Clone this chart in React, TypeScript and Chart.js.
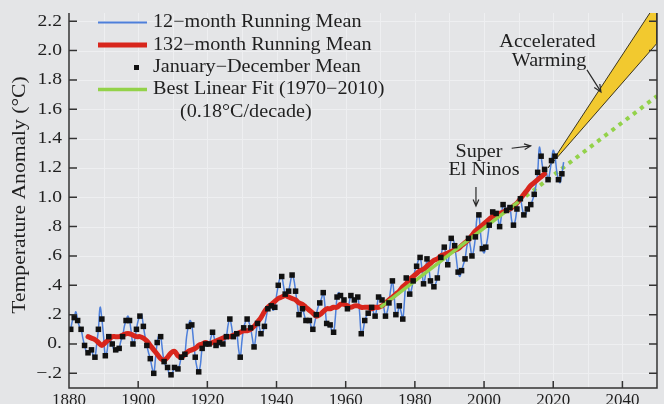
import React, { useEffect, useRef } from "react";
import { Chart, registerables } from "chart.js";

Chart.register(...registerables);

// ---------------------------------------------------------------------------
// Data
// ---------------------------------------------------------------------------

const FIRST_YEAR = 1880;

// January–December mean anomaly (°C), one value per year starting 1880
const annualMean = [
  0.10, 0.18, 0.16, 0.10, -0.01, -0.06, -0.04, -0.09, 0.10, 0.17,
  -0.08, 0.05, 0.00, -0.04, -0.03, 0.05, 0.16, 0.16, 0.00, 0.10,
  0.19, 0.12, -0.01, -0.10, -0.20, 0.01, 0.05, -0.12, -0.16, -0.21,
  -0.16, -0.17, -0.09, -0.07, 0.12, 0.13, -0.09, -0.19, -0.03, 0.00,
  0.00, 0.08, -0.01, 0.01, 0.00, 0.05, 0.17, 0.05, 0.07, -0.09,
  0.11, 0.17, 0.11, -0.02, 0.14, 0.07, 0.12, 0.24, 0.26, 0.25,
  0.40, 0.46, 0.34, 0.36, 0.47, 0.36, 0.20, 0.24, 0.16, 0.16,
  0.10, 0.20, 0.28, 0.35, 0.14, 0.13, 0.08, 0.32, 0.33, 0.30,
  0.24, 0.33, 0.30, 0.32, 0.07, 0.16, 0.21, 0.25, 0.19, 0.32,
  0.30, 0.19, 0.28, 0.43, 0.20, 0.26, 0.17, 0.45, 0.34, 0.43,
  0.53, 0.59, 0.41, 0.58, 0.43, 0.39, 0.45, 0.59, 0.66, 0.54,
  0.72, 0.67, 0.49, 0.50, 0.58, 0.72, 0.60, 0.73, 0.88, 0.65,
  0.66, 0.81, 0.90, 0.89, 0.80, 0.95, 0.91, 0.93, 0.81, 0.92,
  0.99, 0.88, 0.92, 0.95, 1.02, 1.17, 1.28, 1.19, 1.12, 1.25,
  1.28, 1.12, 1.16,
];

// 12-month running mean at each year boundary (1 Jan), from 1881 to 2023;
// at mid-year the 12-month mean equals the January–December mean above
const runningMean12Edge = [
  0.16, 0.22, 0.12, 0.04, -0.05, -0.06, -0.08, 0.00, 0.25, 0.05,
  -0.05, 0.03, -0.04, -0.05, 0.02, 0.12, 0.19, 0.08, 0.03, 0.16,
  0.20, 0.05, -0.06, -0.16, -0.10, 0.06, -0.04, -0.15, -0.21, -0.19,
  -0.18, -0.14, -0.10, 0.05, 0.16, 0.02, -0.16, -0.14, -0.02, 0.01,
  0.04, 0.04, -0.02, 0.01, 0.02, 0.13, 0.12, 0.05, -0.03, 0.02,
  0.15, 0.15, 0.04, 0.05, 0.12, 0.08, 0.18, 0.27, 0.23, 0.33,
  0.45, 0.40, 0.33, 0.42, 0.44, 0.27, 0.21, 0.20, 0.15, 0.12,
  0.14, 0.25, 0.31, 0.26, 0.12, 0.09, 0.18, 0.35, 0.31, 0.27,
  0.28, 0.32, 0.31, 0.22, 0.09, 0.19, 0.23, 0.22, 0.25, 0.33,
  0.25, 0.22, 0.37, 0.33, 0.21, 0.22, 0.30, 0.42, 0.37, 0.50,
  0.57, 0.52, 0.46, 0.53, 0.40, 0.41, 0.53, 0.65, 0.60, 0.63,
  0.72, 0.58, 0.46, 0.54, 0.66, 0.67, 0.64, 0.87, 0.75, 0.62,
  0.72, 0.88, 0.88, 0.86, 0.87, 0.94, 0.94, 0.84, 0.84, 0.98,
  0.93, 0.88, 0.94, 0.98, 1.08, 1.34, 1.20, 1.17, 1.17, 1.32,
  1.18, 1.10, 1.24,
];

// 132-month running mean, yearly from mid-1885 to mid-2017
const RUNNING132_START = 1885.5;
const runningMean132 = [
  0.05, 0.04, 0.03, 0.01, -0.01, 0.01, 0.03, 0.05, 0.05, 0.05,
  0.06, 0.07, 0.07, 0.06, 0.05, 0.05, 0.04, 0.02, -0.01, -0.04,
  -0.07, -0.10, -0.11, -0.09, -0.06, -0.05, -0.08, -0.09, -0.07, -0.05,
  -0.04, -0.03, -0.01, 0.00, 0.01, 0.00, 0.01, 0.02, 0.03, 0.04,
  0.05, 0.05, 0.06, 0.07, 0.08, 0.09, 0.09, 0.10, 0.12, 0.15,
  0.18, 0.22, 0.25, 0.27, 0.29, 0.31, 0.32, 0.33, 0.32, 0.31,
  0.30, 0.28, 0.27, 0.25, 0.23, 0.21, 0.19, 0.20, 0.22, 0.24,
  0.24, 0.25, 0.25, 0.27, 0.27, 0.26, 0.25, 0.26, 0.26, 0.25,
  0.25, 0.25, 0.24, 0.25, 0.25, 0.26, 0.28, 0.30, 0.32, 0.34,
  0.36, 0.39, 0.41, 0.44, 0.46, 0.48, 0.50, 0.51, 0.53, 0.55,
  0.57, 0.58, 0.60, 0.61, 0.62, 0.63, 0.64, 0.65, 0.67, 0.69,
  0.71, 0.74, 0.77, 0.79, 0.81, 0.83, 0.85, 0.87, 0.88, 0.89,
  0.90, 0.91, 0.92, 0.94, 0.96, 0.99, 1.02, 1.05, 1.08, 1.10,
  1.12, 1.14, 1.16,
];

// Best linear fit 1970–2010 (0.18 °C/decade) and its extension to 2050
const fitYears = [1970, 2010];
const fitValues = [0.25, 0.97];
const extensionYears = [2010, 2050];
const extensionValues = [0.97, 1.69];

// "Accelerated Warming" wedge outline
const wedgeYears = [2018.5, 2050, 2050, 2018.5];
const wedgeValues = [1.2, 2.33, 2.05, 1.2];

// Axes
const X_MIN = 1880;
const X_MAX = 2050;
const Y_MIN = -0.3;
const Y_MAX = 2.256;
const xTicks = [1880, 1900, 1920, 1940, 1960, 1980, 2000, 2020, 2040];
const xTickLabels = ["1880", "1900", "1920", "1940", "1960", "1980", "2000", "2020", "2040"];
const xGrid = [1880, 1890, 1900, 1910, 1920, 1930, 1940, 1950, 1960, 1970, 1980, 1990, 2000, 2010, 2020, 2030, 2040, 2050];
const yTicks = [-0.2, 0, 0.2, 0.4, 0.6, 0.8, 1.0, 1.2, 1.4, 1.6, 1.8, 2.0, 2.2];
const yTickLabels = ["\u2212.2", "0.", ".2", ".4", ".6", ".8", "1.0", "1.2", "1.4", "1.6", "1.8", "2.0", "2.2"];

// ---------------------------------------------------------------------------
// Styling
// ---------------------------------------------------------------------------

const SERIF = '"Liberation Serif", "Times New Roman", serif';
const BG = "#e4e5e7";
const GRID = "#eeeff1";
const INK = "#1f1f1f";
const AXIS = "#333333";
const BLUE = "#4d7fda";
const RED = "#d8261c";
const GREEN = "#93d24a";
const YELLOW = "#f2c92f";

type Pt = { x: number; y: number };

function annualPoints(): Pt[] {
  return annualMean.map((v, i) => ({ x: FIRST_YEAR + i + 0.5, y: v }));
}

function running12Points(): Pt[] {
  const pts: Pt[] = [];
  annualMean.forEach((v, i) => {
    pts.push({ x: FIRST_YEAR + i + 0.5, y: v });
    pts.push({ x: FIRST_YEAR + i + 1, y: runningMean12Edge[i] });
  });
  return pts;
}

function running132Points(): Pt[] {
  return runningMean132.map((v, i) => ({ x: RUNNING132_START + i, y: v }));
}

function pairs(xs: number[], ys: number[]): Pt[] {
  return xs.map((x, i) => ({ x, y: ys[i] }));
}

function text(
  ctx: CanvasRenderingContext2D,
  s: string,
  x: number,
  y: number,
  size: number,
  stretch: number,
  align: CanvasTextAlign,
  baseline: CanvasTextBaseline = "middle",
  rotate = 0
) {
  ctx.save();
  ctx.translate(x, y);
  if (rotate) ctx.rotate(rotate);
  ctx.scale(stretch, 1);
  ctx.font = `${size}px ${SERIF}`;
  ctx.textAlign = align;
  ctx.textBaseline = baseline;
  ctx.fillStyle = INK;
  ctx.fillText(s, 0, 0);
  ctx.restore();
}

function arrow(ctx: CanvasRenderingContext2D, x1: number, y1: number, x2: number, y2: number, head = 7) {
  const a = Math.atan2(y2 - y1, x2 - x1);
  ctx.beginPath();
  ctx.moveTo(x1, y1);
  ctx.lineTo(x2, y2);
  ctx.moveTo(x2 - head * Math.cos(a - 0.42), y2 - head * Math.sin(a - 0.42));
  ctx.lineTo(x2, y2);
  ctx.lineTo(x2 - head * Math.cos(a + 0.42), y2 - head * Math.sin(a + 0.42));
  ctx.stroke();
}

const framePlugin = {
  id: "frame",
  beforeDraw(chart: any) {
    const { ctx, chartArea: a, scales } = chart;
    const x = scales.x;
    const y = scales.y;
    ctx.save();
    ctx.fillStyle = BG;
    ctx.fillRect(0, 0, chart.width, chart.height);
    ctx.strokeStyle = GRID;
    ctx.lineWidth = 1;
    ctx.beginPath();
    for (const yr of xGrid) {
      const px = Math.round(x.getPixelForValue(yr)) + 0.5;
      ctx.moveTo(px, a.top);
      ctx.lineTo(px, a.bottom);
    }
    for (const v of yTicks) {
      const py = Math.round(y.getPixelForValue(v)) + 0.5;
      ctx.moveTo(a.left, py);
      ctx.lineTo(a.right, py);
    }
    ctx.stroke();
    ctx.restore();
  },
  afterDraw(chart: any) {
    const { ctx, chartArea: a, scales } = chart;
    const x = scales.x;
    const y = scales.y;
    ctx.save();

    // axes box (left, bottom, right) with inward ticks
    ctx.strokeStyle = AXIS;
    ctx.lineWidth = 1.5;
    ctx.beginPath();
    ctx.moveTo(a.left, a.top);
    ctx.lineTo(a.left, a.bottom);
    ctx.lineTo(a.right, a.bottom);
    ctx.lineTo(a.right, a.top);
    for (const v of yTicks) {
      const py = y.getPixelForValue(v);
      ctx.moveTo(a.left, py);
      ctx.lineTo(a.left + 8, py);
      ctx.moveTo(a.right, py);
      ctx.lineTo(a.right - 8, py);
    }
    for (const yr of xTicks) {
      const px = x.getPixelForValue(yr);
      ctx.moveTo(px, a.bottom);
      ctx.lineTo(px, a.bottom - 7);
    }
    ctx.stroke();

    // tick labels
    yTicks.forEach((v, i) => {
      text(ctx, yTickLabels[i], a.left - 7, y.getPixelForValue(v), 17, 1.15, "right");
    });
    xTicks.forEach((yr, i) => {
      text(ctx, xTickLabels[i], x.getPixelForValue(yr), a.bottom + 17, 16, 1.06, "center", "alphabetic");
    });

    // axis title
    text(ctx, "Temperature Anomaly (\u00B0C)", 20, 195, 18, 1.2, "center", "middle", -Math.PI / 2);

    // legend
    const lx0 = 98;
    const lx1 = 147;
    const tx = 153;
    const rows = [22.5, 45, 67.5, 89.5, 112.5];
    ctx.lineCap = "butt";
    ctx.strokeStyle = BLUE;
    ctx.lineWidth = 2;
    ctx.beginPath();
    ctx.moveTo(lx0, rows[0]);
    ctx.lineTo(lx1, rows[0]);
    ctx.stroke();
    ctx.strokeStyle = RED;
    ctx.lineWidth = 5;
    ctx.beginPath();
    ctx.moveTo(lx0, rows[1]);
    ctx.lineTo(lx1, rows[1]);
    ctx.stroke();
    ctx.fillStyle = "#111";
    ctx.fillRect(134, rows[2] - 2.5, 5, 5);
    ctx.strokeStyle = GREEN;
    ctx.lineWidth = 3.5;
    ctx.beginPath();
    ctx.moveTo(lx0, rows[3]);
    ctx.lineTo(lx1, rows[3]);
    ctx.stroke();
    text(ctx, "12\u2212month Running Mean", tx, rows[0], 18, 1.12, "left");
    text(ctx, "132\u2212month Running Mean", tx, rows[1], 18, 1.12, "left");
    text(ctx, "January\u2212December Mean", tx, rows[2], 18, 1.12, "left");
    text(ctx, "Best Linear Fit (1970\u22122010)", tx, rows[3], 18, 1.12, "left");
    text(ctx, "(0.18\u00B0C/decade)", 180, rows[4], 18, 1.12, "left");

    // annotations
    const P = (yr: number, v: number): [number, number] => [x.getPixelForValue(yr), y.getPixelForValue(v)];
    let p = P(2018.33, 2.057);
    text(ctx, "Accelerated", p[0], p[1], 18, 1.12, "center");
    p = P(2018.77, 1.924);
    text(ctx, "Warming", p[0], p[1], 18, 1.12, "center");
    p = P(1998.53, 1.305);
    text(ctx, "Super", p[0], p[1], 18, 1.12, "center");
    p = P(1999.98, 1.181);
    text(ctx, "El Ninos", p[0], p[1], 18, 1.12, "center");

    ctx.strokeStyle = "#2a2a2a";
    ctx.lineWidth = 1.2;
    let s = P(2029.75, 1.868);
    let e = P(2033.8, 1.718);
    arrow(ctx, s[0], s[1], e[0], e[1], 8);
    s = P(2007.98, 1.334);
    e = P(2013.48, 1.35);
    arrow(ctx, s[0], s[1], e[0], e[1], 7);
    s = P(1997.66, 1.07);
    e = P(1997.66, 0.941);
    arrow(ctx, s[0], s[1], e[0], e[1], 7);

    ctx.restore();
  },
};

export default function App() {
  const canvasRef = useRef<HTMLCanvasElement>(null);

  useEffect(() => {
    document.body.style.margin = "0";
    document.body.style.background = BG;
    const canvas = canvasRef.current;
    if (!canvas) return;

    const chart = new Chart(canvas, {
      type: "scatter",
      data: {
        datasets: [
          {
            label: "January\u2212December Mean",
            data: annualPoints(),
            showLine: false,
            pointStyle: "rect",
            pointRadius: 3.9,
            pointBorderWidth: 0,
            backgroundColor: "#111111",
            borderColor: "#111111",
            order: 0,
          },
          {
            label: "Best Linear Fit (1970\u22122010)",
            data: pairs(fitYears, fitValues),
            showLine: true,
            borderColor: GREEN,
            borderWidth: 3.5,
            pointRadius: 0,
            order: 1,
          },
          {
            label: "132\u2212month Running Mean",
            data: running132Points(),
            showLine: true,
            borderColor: RED,
            borderWidth: 5,
            tension: 0.4,
            pointRadius: 0,
            borderCapStyle: "round",
            order: 2,
          },
          {
            label: "12\u2212month Running Mean",
            data: running12Points(),
            showLine: true,
            borderColor: BLUE,
            borderWidth: 1.5,
            tension: 0.4,
            pointRadius: 0,
            order: 3,
          },
          {
            label: "Linear extension",
            data: pairs(extensionYears, extensionValues),
            showLine: true,
            borderColor: GREEN,
            borderWidth: 4,
            borderDash: [4, 5],
            pointRadius: 0,
            order: 4,
          },
          {
            label: "Accelerated Warming",
            data: pairs(wedgeYears, wedgeValues),
            showLine: true,
            fill: "shape",
            backgroundColor: YELLOW,
            borderColor: "#3b3520",
            borderWidth: 1,
            pointRadius: 0,
            order: 5,
          },
        ],
      },
      options: {
        responsive: false,
        animation: false,
        devicePixelRatio: 1,
        layout: { padding: { top: 13, right: 7, left: 0, bottom: 0 } },
        plugins: {
          legend: { display: false },
          tooltip: { enabled: false },
        },
        scales: {
          x: {
            type: "linear",
            min: X_MIN,
            max: X_MAX,
            ticks: { display: false },
            grid: { display: false },
            border: { display: false },
            afterFit(scale: any) {
              scale.height = 16;
              scale.paddingLeft = 0;
              scale.paddingRight = 0;
            },
          },
          y: {
            type: "linear",
            min: Y_MIN,
            max: Y_MAX,
            ticks: { display: false },
            grid: { display: false },
            border: { display: false },
            afterFit(scale: any) {
              scale.width = 69;
              scale.paddingTop = 0;
              scale.paddingBottom = 0;
            },
          },
        },
      },
      plugins: [framePlugin],
    } as any);

    return () => chart.destroy();
  }, []);

  return (
    <canvas
      ref={canvasRef}
      width={664}
      height={404}
      style={{ display: "block", width: 664, height: 404 }}
    />
  );
}
